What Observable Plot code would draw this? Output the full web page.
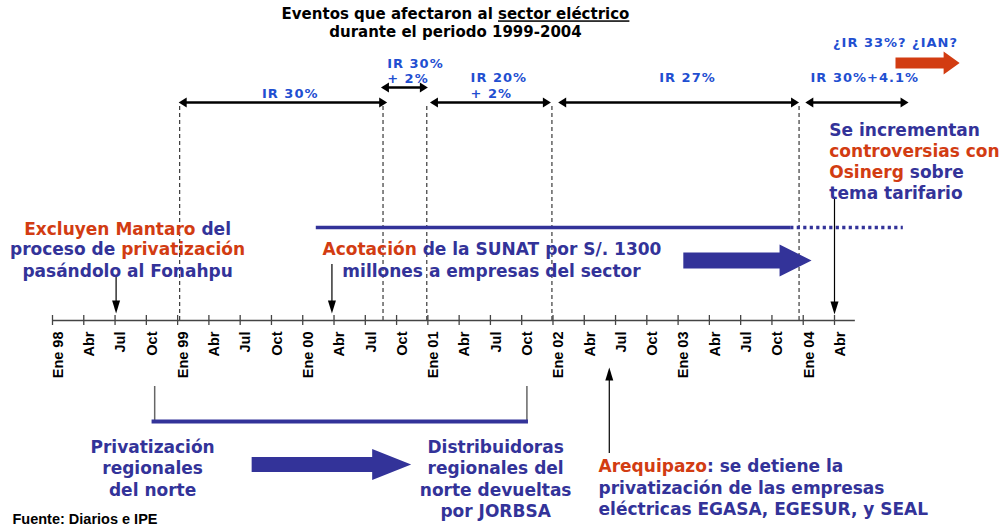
<!DOCTYPE html>
<html>
<head>
<meta charset="utf-8">
<script src="https://cdn.jsdelivr.net/npm/d3@7"></script>
<script src="https://cdn.jsdelivr.net/npm/@observablehq/plot@0.6"></script>
<style>
  body { margin: 0; background: #fff; }
  #chart svg { display: block; }
</style>
</head>
<body>
<div id="chart"></div>
<script>
// ---------- DATA (x = months counted from "Ene 98", level = height above the time axis) ----------
const tickMonths = [0, 3, 6, 9, 12, 15, 18, 21, 24, 27, 30, 33, 36, 39, 42, 45, 48, 51, 54, 57, 60, 63, 66, 69, 72, 75];
const tickLabels = ["Ene 98", "Abr", "Jul", "Oct", "Ene 99", "Abr", "Jul", "Oct", "Ene 00", "Abr", "Jul", "Oct",
                    "Ene 01", "Abr", "Jul", "Oct", "Ene 02", "Abr", "Jul", "Oct", "Ene 03", "Abr", "Jul", "Oct", "Ene 04", "Abr"];
const axisEnd = 77;

// tax-rate periods (double-headed arrows)
const rateStart = [12.1, 31.5, 36.2, 48.5, 72.2];
const rateEnd   = [32.1, 36.0, 47.8, 71.6, 82.1];
const rateLevel = [218, 233, 218, 218, 218];

const rateText       = ["IR 30%", "IR 30%", "+ 2%", "IR 20%", "+ 2%", "IR 27%", "IR 30%+4.1%", "¿IR 33%? ¿IAN?"];
const rateTextX      = [22.8, 32.1, 32.1, 40.1, 40.1, 60.9, 72.7, 80.85];
const rateTextLevel  = [227, 257, 242, 243, 227, 243, 243, 278];
const rateTextAnchor = ["middle", "start", "start", "start", "start", "middle", "start", "middle"];

// dashed period boundaries
const periodBreaks = [12.2, 31.7, 35.9, 47.9, 71.6];
const breakTop = 217;

// SUNAT line (solid, then dotted)
const sunatStart = 25.3, sunatEnd = 70.8, sunatDottedEnd = 81.6, sunatLevel = 93;

// thin pointer arrows (from level -> to level, at month x)
const pointerX    = [6.1, 26.8, 75.0, 53.4];
const pointerFrom = [43, 56, 122, -133];
const pointerTo   = [7, 7, 6, -47];

// thick block arrows
const blockFrom  = [60.5, 19.1, 80.85];
const blockTip   = [72.8, 34.4, 87.0];
const blockLevel = [60, -144, 257.5];

// bracket under the axis (privatización regionales del norte)
const bracketStart = 9.8, bracketEnd = 45.5, bracketTop = -66, bracketLevel = -101;

// annotation lines: {orange}, [underlined]
const noteLines = [
  "{Excluyen Mantaro} del", "proceso de {privatización}", "pasándolo al Fonahpu",
  "{Acotación} de la SUNAT por S/. 1300", "millones a empresas del sector",
  "Se incrementan", "{controversias con}", "{Osinerg} sobre", "tema tarifario",
  "Privatización", "regionales", "del norte",
  "Distribuidoras", "regionales del", "norte devueltas", "por JORBSA",
  "{Arequipazo}: se detiene la", "privatización de las empresas", "eléctricas EGASA, EGESUR, y SEAL"
];
const noteX = [7.2, 7.2, 7.2, 42.15, 42.1, 74.5, 74.5, 74.5, 74.5, 9.6, 9.6, 9.6, 42.5, 42.5, 42.5, 42.5, 52.37, 52.37, 52.37];
const noteLevel = [91, 71, 49, 71, 49, 190, 169, 148, 127, -127, -148, -170, -127, -148, -170, -191, -146, -168, -189];
const noteAnchor = ["middle", "middle", "middle", "middle", "middle", "start", "start", "start", "start",
                    "middle", "middle", "middle", "middle", "middle", "middle", "middle", "start", "start", "start"];

const titleLines = ["Eventos que afectaron al [sector eléctrico]", "durante el periodo 1999-2004"];
const titleX = 38.65;
const titleLevel = [306, 288];
const captionText = "Fuente: Diarios e IPE";
const captionX = -3.84, captionLevel = -199;

// ---------- STYLE ----------
const NAVY = "#333399", ORANGE = "#d23c12", RATEBLUE = "#1f4fd1";
const W = 1005, H = 529;
const xDomain = [-4.987, 91.4];
const yDomain = [-209, 320];
const pxPerMonth = W / (xDomain[1] - xDomain[0]);
const blockStyle = [
  {color: NAVY, headLen: 32, bodyHalf: 8, headHalf: 16},
  {color: NAVY, headLen: 39, bodyHalf: 7.5, headHalf: 15.5},
  {color: ORANGE, headLen: 16, bodyHalf: 5.5, headHalf: 11.5}
];

// ---------- helpers ----------
function parse(raw) {
  const out = [];
  const re = /\{([^}]*)\}|\[([^\]]*)\]|([^{\[]+)/g;
  let m;
  while ((m = re.exec(raw))) {
    if (m[1] != null) out.push({t: m[1], o: true});
    else if (m[2] != null) out.push({t: m[2], u: true});
    else out.push({t: m[3]});
  }
  return out;
}
const plain = raw => parse(raw).map(s => s.t).join("");

function hHead(id, tipX, level, dir, len, half) {
  const bx = tipX - dir * len / pxPerMonth;
  return [{id, x: bx, y: level + half}, {id, x: tipX, y: level}, {id, x: bx, y: level - half}];
}
function vHead(id, x, tipLevel, dir, len, half) {
  const by = tipLevel - dir * len;
  const dx = half / pxPerMonth;
  return [{id, x: x - dx, y: by}, {id, x, y: tipLevel}, {id, x: x + dx, y: by}];
}
function block(id, x0, tip, level, s) {
  const xh = tip - s.headLen / pxPerMonth;
  return [[x0, level + s.bodyHalf], [xh, level + s.bodyHalf], [xh, level + s.headHalf], [tip, level],
          [xh, level - s.headHalf], [xh, level - s.bodyHalf], [x0, level - s.bodyHalf]]
    .map(([x, y]) => ({id, x, y, color: s.color}));
}

// ---------- tables ----------
const ticks = tickMonths.map((m, i) => ({m, label: tickLabels[i]}));
const rates = rateStart.map((s, i) => ({s, e: rateEnd[i], level: rateLevel[i]}));
const RH = 8, RW = 5;
const rateHeads = rates.flatMap((r, i) => [
  ...hHead("a" + i, r.s, r.level, -1, RH, RW),
  ...hHead("b" + i, r.e, r.level, 1, RH, RW)
]);
const rateLabels = rateText.map((t, i) => ({t, x: rateTextX[i], y: rateTextLevel[i], a: rateTextAnchor[i]}));
const pointers = pointerX.map((x, i) => ({x, from: pointerFrom[i], to: pointerTo[i]}));
const PH = 13, PW = 4;
const pointerHeads = pointers.flatMap((p, i) => vHead("p" + i, p.x, p.to, Math.sign(p.to - p.from), PH, PW));
const blocks = blockFrom.flatMap((x0, i) => block("k" + i, x0, blockTip[i], blockLevel[i], blockStyle[i]));
const notes = noteLines.map((raw, i) => ({raw, t: plain(raw), x: noteX[i], y: noteLevel[i], a: noteAnchor[i]}));
const titles = titleLines.map((raw, i) => ({raw, t: plain(raw), y: titleLevel[i]}));

const noteStyle = {x: "x", y: "y", text: "t", fill: NAVY, fontSize: 17, fontWeight: "bold", fontFamily: "DejaVu Sans"};
const rateStyle = {x: "x", y: "y", text: "t", fill: RATEBLUE, fontSize: 13, fontWeight: "bold", fontFamily: "DejaVu Sans"};

const chart = Plot.plot({
  width: W, height: H, margin: 0,
  x: {domain: xDomain, axis: null},
  y: {domain: yDomain, axis: null},
  style: {background: "#fff", fontFamily: "DejaVu Sans"},
  marks: [
    // dashed period boundaries
    Plot.ruleX(periodBreaks, {x: d => d, y1: 0, y2: breakTop, stroke: "#111", strokeWidth: 1, strokeDasharray: "4,3"}),
    // SUNAT line
    Plot.ruleY([sunatLevel], {y: d => d, x1: sunatStart, x2: sunatEnd, stroke: NAVY, strokeWidth: 3.7}),
    Plot.ruleY([sunatLevel], {y: d => d, x1: sunatEnd, x2: sunatDottedEnd, stroke: NAVY, strokeWidth: 3.7, strokeDasharray: "3.2,3.3"}),
    // time axis
    Plot.ruleY([0], {y: d => d, x1: 0, x2: axisEnd, stroke: "#444", strokeWidth: 1.5}),
    Plot.ruleX(ticks, {x: "m", y1: -5, y2: 5, stroke: "#444", strokeWidth: 1.3}),
    Plot.text(ticks, {x: "m", y: -11, text: "label", rotate: -90, textAnchor: "end", lineAnchor: "top",
      fontFamily: "Liberation Sans, Arial, sans-serif", fontWeight: "bold", fontSize: 14.5, fill: "#000"}),
    // rate arrows
    Plot.ruleY(rates, {y: "level", x1: d => d.s + 3 / pxPerMonth, x2: d => d.e - 3 / pxPerMonth, stroke: "#000", strokeWidth: 2.6}),
    Plot.line(rateHeads, {x: "x", y: "y", z: "id", fill: "#000", stroke: "none"}),
    Plot.text(rateLabels.filter(d => d.a === "middle"), {...rateStyle, textAnchor: "middle"}),
    Plot.text(rateLabels.filter(d => d.a === "start"), {...rateStyle, textAnchor: "start"}),
    // bracket
    Plot.ruleX([bracketStart, bracketEnd], {x: d => d, y1: bracketTop, y2: bracketLevel, stroke: "#666", strokeWidth: 1.5}),
    Plot.ruleY([bracketLevel], {y: d => d, x1: bracketStart - 0.25, x2: bracketEnd + 0.15, stroke: NAVY, strokeWidth: 4}),
    // pointer arrows
    Plot.ruleX(pointers, {x: "x", y1: "from", y2: d => d.to - Math.sign(d.to - d.from) * PH * 0.6, stroke: "#000", strokeWidth: 1.2}),
    Plot.line(pointerHeads, {x: "x", y: "y", z: "id", fill: "#000", stroke: "none"}),
    // block arrows
    Plot.line(blocks, {x: "x", y: "y", z: "id", fill: "color", stroke: "none"}),
    // annotations
    Plot.text(notes.filter(d => d.a === "middle"), {...noteStyle, textAnchor: "middle"}),
    Plot.text(notes.filter(d => d.a === "start"), {...noteStyle, textAnchor: "start"}),
    Plot.text(titles, {x: titleX, y: "y", text: "t", fill: "#000", fontSize: 15, fontWeight: "bold", fontFamily: "DejaVu Sans"}),
    Plot.text([captionText], {x: captionX, y: captionLevel, text: d => d, textAnchor: "start", fill: "#000", fontSize: 14.5,
      fontWeight: "bold", fontFamily: "Liberation Sans, Arial, sans-serif"})
  ]
});
document.getElementById("chart").appendChild(chart);

// rich text: orange and underlined segments (matched by text content)
const richMap = new Map();
for (const row of [...notes, ...titles]) if (row.raw !== row.t) richMap.set(row.t, row.raw);
chart.querySelectorAll("text").forEach(node => {
  const raw = richMap.get(node.textContent);
  if (!raw) return;
  while (node.firstChild) node.removeChild(node.firstChild);
  for (const seg of parse(raw)) {
    const ts = document.createElementNS("http://www.w3.org/2000/svg", "tspan");
    ts.textContent = seg.t;
    if (seg.o) ts.setAttribute("fill", ORANGE);
    if (seg.u) ts.setAttribute("text-decoration", "underline");
    node.appendChild(ts);
  }
});
const rateSet = new Set(rateText);
chart.querySelectorAll("text").forEach(node => {
  if (rateSet.has(node.textContent)) node.setAttribute("letter-spacing", "1px");
});
</script>
</body>
</html>
